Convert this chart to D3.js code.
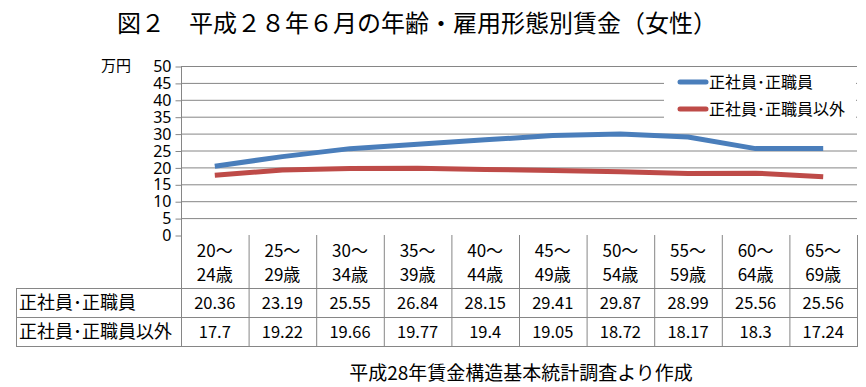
<!DOCTYPE html>
<meta charset="utf-8">
<script src="https://d3js.org/d3.v7.min.js"></script>
<style>
  body { margin: 0; background: #fff; }
  text { font-family: "Noto Sans CJK JP", "Noto Sans", sans-serif; fill: #000; }
</style>
<div id="chart"></div>
<script>

// data
var ages1 = ["20～", "25～", "30～", "35～", "40～", "45～", "50～", "55～", "60～", "65～"];
var ages2 = ["24歳", "29歳", "34歳", "39歳", "44歳", "49歳", "54歳", "59歳", "64歳", "69歳"];
var seriesNames = ["正社員･正職員", "正社員･正職員以外"];
var regular = [20.36, 23.19, 25.55, 26.84, 28.15, 29.41, 29.87, 28.99, 25.56, 25.56];
var nonRegular = [17.7, 19.22, 19.66, 19.77, 19.4, 19.05, 18.72, 18.17, 18.3, 17.24];
var yTicks = [0, 5, 10, 15, 20, 25, 30, 35, 40, 45, 50];
var colors = ["#4A7EBB", "#BE4B48"];

var W = 866, H = 387;
var plotL = 181, plotR = 857, plotT = 66, plotB = 235;

var svg = d3.select("#chart").append("svg")
  .attr("width", W).attr("height", H);

// title
svg.append("text")
  .attr("x", 417).attr("y", 32)
  .attr("text-anchor", "middle")
  .style("font-size", "24px")
  .text("図２　平成２８年６月の年齢・雇用形態別賃金（女性）");

var x = d3.scaleBand().domain(d3.range(10)).range([plotL, plotR]);
var y = d3.scaleLinear().domain([0, 50]).range([plotB, plotT]);

// gridlines
svg.append("g").selectAll("line").data(yTicks.slice(1)).enter().append("line")
  .attr("x1", plotL).attr("x2", plotR)
  .attr("y1", function(d) { return y(d) + 0.5; })
  .attr("y2", function(d) { return y(d) + 0.5; })
  .attr("stroke", "#868686").attr("stroke-width", 1);

// y axis
var yAxis = svg.append("g")
  .attr("transform", "translate(" + (plotL + 0.5) + ",0.5)")
  .call(d3.axisLeft(y).tickValues(yTicks).tickSize(6).tickPadding(4));
yAxis.selectAll("path, line").attr("stroke", "#868686");
yAxis.select(".domain").attr("d", "M0," + plotT + "V" + plotB);
yAxis.selectAll("text").style("font-size", "16px")
  .style("font-family", "'Noto Sans', sans-serif");

svg.append("text")
  .attr("x", 116).attr("y", 71)
  .attr("text-anchor", "middle")
  .style("font-size", "15px")
  .text("万円");

// legend background covering gridlines
svg.append("rect")
  .attr("x", 664).attr("y", 72).attr("width", plotR - 664 - 1).attr("height", 52)
  .attr("fill", "#fff");

// lines
var line = d3.line()
  .x(function(d, i) { return x(i) + x.bandwidth() / 2; })
  .y(function(d) { return y(d); });

[regular, nonRegular].forEach(function(s, k) {
  svg.append("path")
    .datum(s)
    .attr("d", line)
    .attr("fill", "none")
    .attr("stroke", colors[k])
    .attr("stroke-width", 5)
    .attr("stroke-linejoin", "round");
});

// legend
seriesNames.forEach(function(n, k) {
  var ly = 82 + k * 27;
  svg.append("line")
    .attr("x1", 680).attr("x2", 706).attr("y1", ly).attr("y2", ly)
    .attr("stroke", colors[k]).attr("stroke-width", 5).attr("stroke-linecap", "round");
  svg.append("text")
    .attr("x", 709).attr("y", ly + 6)
    .style("font-size", "16px")
    .text(n);
});

// data table
var rowY = [plotB, 288, 317, 346];
var tbl = svg.append("g").attr("stroke", "#868686").attr("stroke-width", 1);
x.domain().forEach(function(i) {
  tbl.append("line")
    .attr("x1", x(i) + 0.5).attr("x2", x(i) + 0.5)
    .attr("y1", plotB).attr("y2", rowY[3]);
});
tbl.append("line").attr("x1", plotR + 0.5).attr("x2", plotR + 0.5)
  .attr("y1", plotB).attr("y2", rowY[3]);
tbl.append("line").attr("x1", 16.5).attr("x2", 16.5)
  .attr("y1", rowY[1]).attr("y2", rowY[3]);
[1, 2, 3].forEach(function(r) {
  tbl.append("line").attr("x1", 16).attr("x2", plotR + 1)
    .attr("y1", rowY[r] + 0.5).attr("y2", rowY[r] + 0.5);
});

// category labels
svg.append("g").selectAll("text").data(ages1).enter().append("text")
  .attr("x", function(d, i) { return x(i) + x.bandwidth() / 2; })
  .attr("y", 257)
  .attr("text-anchor", "middle")
  .style("font-size", "17px")
  .text(function(d) { return d; });
svg.append("g").selectAll("text").data(ages2).enter().append("text")
  .attr("x", function(d, i) { return x(i) + x.bandwidth() / 2; })
  .attr("y", 281)
  .attr("text-anchor", "middle")
  .style("font-size", "17px")
  .text(function(d) { return d; });

// row labels and values
[regular, nonRegular].forEach(function(s, k) {
  var ty = rowY[k + 1] + 21;
  svg.append("text")
    .attr("x", 19).attr("y", ty)
    .style("font-size", "18px")
    .text(seriesNames[k]);
  svg.append("g").selectAll("text").data(s).enter().append("text")
    .attr("x", function(d, i) { return x(i) + x.bandwidth() / 2; })
    .attr("y", ty)
    .attr("text-anchor", "middle")
    .style("font-size", "16.5px")
    .text(function(d) { return d; });
});

// source note
svg.append("text")
  .attr("x", 521).attr("y", 380)
  .attr("text-anchor", "middle")
  .style("font-size", "19px")
  .text("平成28年賃金構造基本統計調査より作成");

</script>
